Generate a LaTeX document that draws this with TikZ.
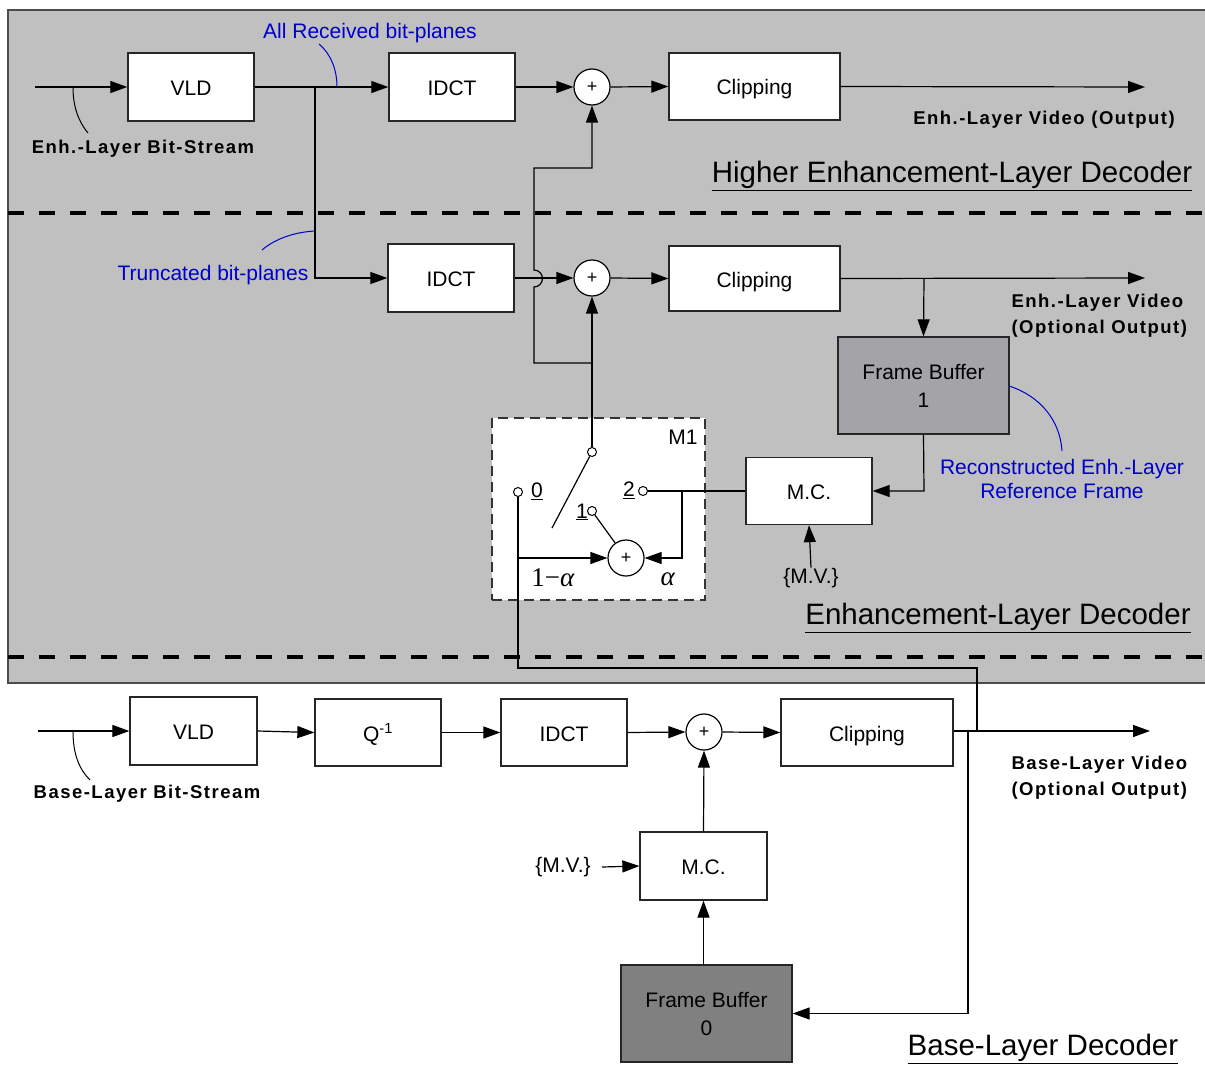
\documentclass[tikz,border=0pt]{standalone}
\usepackage{fontspec}
\setmainfont{Liberation Sans}
\newfontfamily\serifx{Liberation Serif}
\usetikzlibrary{arrows.meta}
\definecolor{bggray}{RGB}{192,192,192}
\definecolor{fbone}{RGB}{163,163,168}
\definecolor{fbzero}{RGB}{128,128,128}
\definecolor{myblue}{RGB}{0,0,204}
\begin{document}
\begin{tikzpicture}[x=1pt,y=-1pt, line width=1.2pt,
  blk/.style={draw=black!85, fill=white, line width=1.3pt, minimum width=126pt, minimum height=68pt, inner sep=0pt, text height=17pt, text depth=0pt, font=\fontsize{21}{25}\selectfont},
  fbblk/.style={draw=black!85, line width=1.3pt, minimum width=171pt, minimum height=97pt, inner sep=0pt, align=center, font=\fontsize{21}{28}\selectfont},
  adder/.style={circle, draw=black, fill=white, line width=1.2pt, minimum size=36pt, inner sep=0pt, font=\fontsize{18}{18}\selectfont},
  arr/.style={-{Triangle[length=17pt,width=12pt]}},
  lbl/.style={font=\bfseries\fontsize{18.5}{26}\selectfont\addfontfeatures{LetterSpace=8}, align=left, inner sep=0pt},
  bluelbl/.style={text=myblue, font=\fontsize{21}{24}\selectfont, inner sep=0pt},
  plain/.style={font=\fontsize{21}{24}\selectfont, inner sep=0pt},
  greek/.style={font=\serifx\fontsize{27}{27}\selectfont, inner sep=0pt},
  title/.style={font=\fontsize{29.5}{32}\selectfont, inner sep=0pt},
  term/.style={circle, draw=black, fill=white, minimum size=9pt, inner sep=0pt, line width=1pt},
  leader/.style={line width=1pt},
  sep/.style={line width=3.5pt, dash pattern=on 16pt off 15pt}
]
\useasboundingbox (0,0) rectangle (1205,1065);
% backgrounds
\fill[bggray] (8,10) rectangle (1205,683);
\draw[black!70, line width=1.3pt] (1205,10) -- (8,10) -- (8,683) -- (1205,683);
\draw[sep] (8,213) -- (1205,213);
\draw[sep] (8,657) -- (1205,657);

% ---------- top row ----------
\node[blk] (vld1) at (191,87) {VLD};
\node[blk] (idct1) at (452,87) {IDCT};
\node[adder] (add1) at (592,87) {+};
\node[blk, minimum width=171pt, minimum height=67pt] (clip1) at (754.5,86.5) {Clipping};
\coordinate (in1) at (35,87);
\coordinate (out1) at (1145,87);
\coordinate (br1) at (315,87);
\draw[arr] (in1) -- (vld1.west);
\draw[arr] (vld1.east) -- (idct1.west);
\draw[arr] (idct1.east) -- (add1.west);
\draw[arr] (add1.east) -- (clip1.west);
\draw[arr] (clip1.east) -- (out1);

% ---------- second row ----------
\node[blk] (idct2) at (451,278) {IDCT};
\node[adder] (add2) at (592,278) {+};
\node[blk, minimum width=171pt, minimum height=65pt] (clip2) at (754.5,278.5) {Clipping};
\coordinate (out2) at (1145,278);
\coordinate (br2) at (924,278);
\draw[arr] (br1) -- (315,278) -- (idct2.west);
\draw[arr] (idct2.east) -- (add2.west);
\draw[arr] (add2.east) -- (clip2.west);
\draw[arr] (clip2.east) -- (out2);
\node[fbblk, fill=fbone] (fb1) at (923.5,385.5) {Frame Buffer\\1};
\draw[arr] (br2) -- (fb1.north);
\node[blk, minimum width=126pt, minimum height=67pt] (mc1) at (809,491) {M.C.};
\draw[arr] (fb1.south) -- (924,491) -- (mc1.east);
\node[plain] (mv1) at (811,578) {\{M.V.\}};
\draw[arr] (mv1.north) -- (mc1.south);

% ---------- M1 switch ----------
\node[draw=black!80, fill=white, line width=1.2pt, dash pattern=on 10pt off 6pt, minimum width=213pt, minimum height=182pt, inner sep=0pt] (m1) at (598.5,509) {};
\node[plain] (m1lbl) at (683,437) {M1};
\node[term] (piv) at (592,452) {};
\node[term] (t0) at (518,492) {};
\node[term] (t1) at (592,511) {};
\node[term] (t2) at (643,491) {};
\node[plain] (l0) at (537,491) {\underline{0}};
\node[plain] (l1) at (582,512) {\underline{1}};
\node[plain] (l2) at (629,490) {\underline{2}};
\node[adder] (addm) at (626,558) {+};
\node[greek] (oma) at (553,578) {1−\textit{α}};
\node[greek] (alp) at (668,579) {\textit{α}};
\coordinate (armend) at (552,528);
\draw (piv) -- (armend);
\draw (t1) -- (addm);
\draw[arr] (t0 |- addm) -- (addm.west);
\draw[arr] (682,491) -- (682,558) -- (addm.east);
\draw (t2) -- (mc1.west);
% switch output to adders
\coordinate (br3) at (592,363);
\draw[arr] (piv) -- (add2.south);
\draw[arr] (br3) -- (534,363) -- (534,287) arc[start angle=90, end angle=-90, radius=8.5] -- (534,168) -- (592,168) -- (add1.south);

% terminal 0 down to base layer output
\coordinate (bout) at (977,731);
\draw (t0) -- (518,668) -- (977,668) -- (bout);

% ---------- base layer ----------
\node[blk, minimum width=127pt] (vld3) at (193.5,731) {VLD};
\node[blk, minimum height=67pt] (q) at (378,732.5) {Q\textsuperscript{-1}};
\node[blk, minimum height=67pt] (idct3) at (564,732.5) {IDCT};
\node[adder] (add3) at (704,732) {+};
\node[blk, minimum width=172pt, minimum height=67pt] (clip3) at (867,732.5) {Clipping};
\coordinate (in3) at (38,731);
\coordinate (out3) at (1150,731);
\draw[arr] (in3) -- (vld3.west);
\draw[arr] (vld3.east) -- (q.west);
\draw[arr] (q.east) -- (idct3.west);
\draw[arr] (idct3.east) -- (add3.west);
\draw[arr] (add3.east) -- (clip3.west);
\draw[arr] (clip3.east |- out3) -- (out3);
\node[blk, minimum width=127pt] (mc0) at (703.5,866) {M.C.};
\node[fbblk, fill=fbzero] (fb0) at (706.5,1013.5) {Frame Buffer\\0};
\draw[arr] (mc0.north) -- (add3.south);
\draw[arr] (fb0.north -| mc0.south) -- (mc0.south);
\draw[arr] (968,731) -- (968,1013.5) -- (fb0.east);
\node[plain] (mv0) at (563,867) {\{M.V.\}};
\draw[arr] (602,867) -- (mc0.west);

% ---------- labels ----------
\node[bluelbl] (allrx) at (370,33) {All Received bit-planes};
\draw[leader, myblue] (319,44) .. controls (331,54) and (337,70) .. (337,87);
\node[lbl] (enhbs) at (143,149) {Enh.-Layer Bit-Stream};
\draw[leader] (73,87) .. controls (73,108) and (79,122) .. (88,133);
\node[bluelbl] (trunc) at (213,275) {Truncated bit-planes};
\draw[leader, myblue] (262,250) .. controls (276,238) and (296,232) .. (315,231);
\node[lbl] (enhout) at (1044,120) {Enh.-Layer Video (Output)};
\node[title] (t1title) at (952,176) {\underline{Higher Enhancement-Layer Decoder}};
\node[lbl, anchor=west] (enhopt) at (1011,316) {Enh.-Layer Video\\(Optional Output)};
\node[bluelbl, align=center] (recon) at (1062,479) {Reconstructed Enh.-Layer\\Reference Frame};
\draw[leader, myblue] (1009,386) .. controls (1040,396) and (1060,420) .. (1062,451);
\node[title] (t2title) at (998,618) {\underline{Enhancement-Layer Decoder}};
\node[lbl] (basebs) at (147,794) {Base-Layer Bit-Stream};
\draw[leader] (73,731) .. controls (73,754) and (79,769) .. (90,780);
\node[lbl, anchor=west] (baseopt) at (1011,778) {Base-Layer Video\\(Optional Output)};
\node[title] (t3title) at (1043,1049) {\underline{Base-Layer Decoder}};
\end{tikzpicture}
\end{document}
